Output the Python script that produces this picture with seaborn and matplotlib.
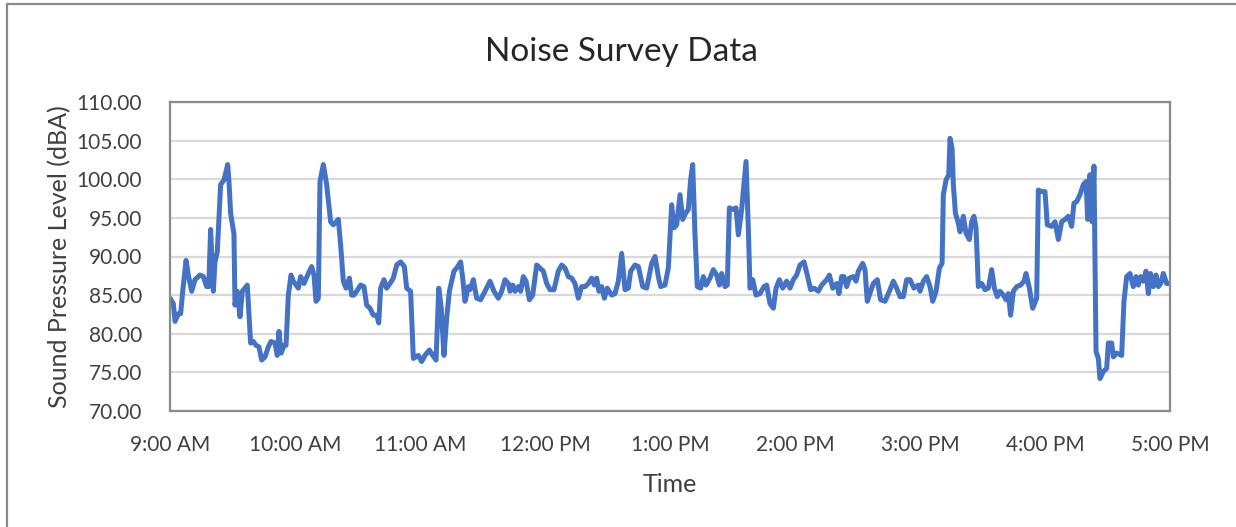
import matplotlib
matplotlib.use("Agg")
import matplotlib.pyplot as plt
import seaborn as sns
import pandas as pd
from matplotlib.patches import Rectangle

# minutes after 9:00 AM and sound pressure level
minutes = [
    0.0, 1.6, 2.4, 4.0, 5.1, 6.1, 7.7, 8.8, 10.4, 12.0, 14.4, 16.0, 17.6, 18.6,
    19.5, 20.8, 21.6, 22.7, 24.3, 25.9, 27.7, 28.3, 29.1, 30.7, 31.2, 32.3,
    33.6, 34.7, 37.1, 38.7, 40.0, 41.3, 42.7, 44.0, 45.6, 47.2, 48.5, 50.4,
    51.5, 52.3, 53.4, 54.7, 55.7, 56.8, 58.1, 59.2, 61.6, 62.7, 64.3, 66.4,
    68.0, 69.1, 70.1, 71.2, 72.0, 73.6, 75.2, 77.1, 78.4, 80.8, 81.9, 83.2,
    84.5, 86.1, 87.2, 88.3, 89.6, 91.5, 93.1, 94.4, 96.0, 97.6, 99.2, 100.2,
    101.1, 102.7, 104.0, 105.6, 107.2, 108.8, 110.7, 112.5, 113.6, 115.5,
    116.8, 119.2,
    120.8, 122.4, 124.5, 126.1, 127.7, 129.0, 130.2, 131.5, 132.8, 134.1,
    136.3, 137.6, 139.5, 140.5, 141.6, 143.2, 144.0, 145.6, 147.2, 149.1,
    151.2, 153.6, 155.5, 157.6, 159.2, 160.8, 162.4, 163.2, 164.5, 165.6,
    167.2, 168.3, 169.6, 170.9, 172.5, 174.1, 176.0, 177.6, 179.2, 180.8,
    182.4, 184.3, 186.4, 188.0, 189.6, 191.2, 192.8, 194.4, 196.0, 197.6,
    199.2, 200.8, 202.4, 203.7, 204.8, 205.9, 207.2, 208.5, 209.9, 212.0,
    213.6, 215.2, 216.8, 218.4, 220.0, 221.1, 223.2, 224.8, 226.9, 228.8,
    231.2, 232.8, 234.4, 235.5, 237.6, 239.2, 240.8, 241.9, 243.2, 244.8,
    246.1, 247.5, 248.8, 249.9, 250.9, 252.0, 253.1, 254.7, 256.0, 257.3,
    259.2, 260.8, 262.4, 263.7, 264.8, 266.4, 267.5, 268.5, 270.1, 271.7,
    272.8, 274.4, 275.5, 276.5, 277.6, 278.4, 279.7, 281.3, 283.2, 285.1,
    286.4, 288.0, 289.6, 290.9, 292.5, 294.1, 296.0, 297.6, 299.2, 300.8,
    302.4, 304.3, 305.9, 307.5, 309.1, 311.2, 312.8, 315.2, 316.5, 318.1,
    320.0, 321.1, 322.4, 323.5, 324.8, 326.1, 328.0, 329.3, 330.4, 332.5,
    333.6, 334.7, 336.3, 337.6, 339.5, 341.1, 343.2, 345.3, 347.2, 348.8,
    350.4, 352.0, 353.6, 355.2, 357.1, 359.2,
    360.0, 361.6, 363.2, 364.8, 366.1, 367.7, 369.3, 370.6, 371.2, 372.5,
    373.8, 374.4, 375.4, 376.0, 377.0, 378.4, 379.2, 380.8, 382.1, 383.7,
    384.8, 385.9, 386.9, 388.0, 389.6, 391.2, 392.8, 394.4, 395.7, 397.1,
    398.4, 400.0, 401.3, 402.4, 403.5, 404.8, 406.4, 408.3, 409.9, 410.9,
    412.5, 414.1, 416.0, 416.8, 418.4, 420.0, 421.1, 423.2, 424.8, 426.4,
    428.0, 429.6, 431.2, 432.8, 433.9, 435.2, 436.8, 438.4, 439.7, 440.5,
    441.6, 442.6, 443.5, 444.5, 445.6, 446.4, 448.0, 449.6, 450.4, 452.0,
    452.8, 454.4, 456.8, 457.9, 459.2, 460.8, 462.4, 463.7, 464.8, 465.9,
    467.2, 468.5, 469.6, 470.7, 472.0, 473.3, 474.4, 475.5, 476.8, 478.4,
    480.0,
]
spl_dba = [
    84.6, 83.9, 81.6, 82.6, 82.6, 85.5, 89.5, 87.6, 85.5, 87.0, 87.6, 87.4, 86.1, 86.1,
    93.5, 85.5, 89.3, 90.6, 99.3, 99.9, 101.9, 99.7, 95.6, 92.9, 83.7, 85.5,
    82.2, 85.5, 86.3, 78.8, 79.0, 78.5, 78.3, 76.6, 77.0, 78.3, 79.0, 78.8,
    77.2, 80.3, 77.5, 78.5, 78.5, 85.0, 87.6, 86.8, 85.9, 87.4, 86.5, 87.8,
    88.7, 87.6, 84.2, 84.6, 99.7, 101.9, 99.3, 94.5, 94.1, 94.8, 91.5, 86.8,
    85.9, 87.2, 85.0, 85.0, 85.5, 86.3, 86.1, 83.7, 83.3, 82.4, 82.4, 81.4,
    85.9, 87.0, 85.9, 86.5, 87.2, 88.9, 89.3, 88.7, 85.9, 85.5,
    76.8, 77.2,
    76.4, 77.2, 77.9, 77.2, 76.6, 85.9, 83.3, 77.2, 82.0, 85.5,
    88.1, 88.5, 89.3, 87.2, 84.2, 86.1, 85.7, 87.0, 84.6, 84.4,
    85.5, 86.8, 85.5, 84.6, 85.5, 87.0, 86.5, 85.5, 86.3, 85.5,
    86.1, 85.5, 87.4, 86.8, 84.4, 85.0, 88.9, 88.5, 88.1, 86.5,
    85.7, 85.7, 88.1, 88.9, 88.5, 87.4, 87.2, 86.5, 84.6, 86.1,
    86.1, 86.5, 87.2, 86.3, 87.2, 85.5, 86.1, 84.6, 85.9, 85.0,
    85.2, 86.8, 90.4, 85.7, 85.9, 88.1, 88.9, 88.7, 86.1, 85.9,
    89.1, 90.0, 87.4, 86.1, 86.3, 88.5, 96.7, 93.7, 94.1, 98.0,
    94.8, 95.6, 96.1, 99.9, 101.9, 92.8, 86.1, 85.9, 87.4, 86.3,
    87.2, 88.3, 87.6, 86.3, 87.8, 86.1, 86.3, 96.3, 96.1, 96.3,
    92.8, 96.1, 99.3, 102.3, 93.7, 85.9, 87.0, 85.0, 85.2, 86.1,
    86.3, 83.9, 83.3, 85.9, 87.0, 85.9, 86.8, 85.9, 87.0, 87.6,
    88.9, 89.3, 87.6, 85.7, 85.9, 85.5, 86.3, 87.0, 87.6, 85.9,
    86.5, 85.2, 87.4, 87.4, 86.1, 87.2, 87.4, 86.8, 88.1, 89.1,
    88.3, 84.2, 85.5, 86.5, 87.0, 84.4, 84.2, 85.5, 86.8, 85.9,
    84.8, 84.8, 87.0, 87.0, 85.9, 86.3,
    85.5, 86.8, 87.4, 86.1, 84.2, 85.5, 88.5, 89.1, 98.0, 99.9,
    100.6, 105.3, 104.0, 99.3, 95.6, 94.3, 93.2, 95.2, 93.0, 92.2,
    94.5, 95.2, 93.7, 86.1, 86.5, 85.7, 85.9, 88.3, 85.9, 84.8,
    85.5, 85.0, 84.4, 85.2, 82.4, 85.5, 86.1, 86.3, 86.8, 87.8,
    85.9, 83.3, 84.6, 98.6, 98.4, 98.4, 94.1, 93.9, 94.5, 92.2,
    94.5, 94.8, 95.2, 93.9, 96.9, 97.1, 98.0, 99.3, 99.7, 94.8,
    100.6, 94.5, 101.7, 77.7, 76.8, 74.2, 75.1, 75.5, 78.8, 78.8,
    77.0, 77.5, 77.2, 84.2, 87.4, 87.8, 86.1, 87.4, 86.3, 87.4,
    86.8, 88.1, 85.2, 87.8, 86.1, 87.6, 86.1, 86.5, 87.8, 86.5,
    86.5,
]
hour_ticks = [0, 60, 120, 180, 240, 300, 360, 420, 480]
hour_labels = ["9:00 AM", "10:00 AM", "11:00 AM", "12:00 PM", "1:00 PM",
               "2:00 PM", "3:00 PM", "4:00 PM", "5:00 PM"]
db_ticks = [70, 75, 80, 85, 90, 95, 100, 105, 110]

df = pd.DataFrame({"minute": minutes, "spl": spl_dba})

sns.set_style("white")
plt.rcParams["font.family"] = ["Lato", "DejaVu Sans"]

fig = plt.figure(figsize=(12.36, 5.27), dpi=100)
ax = fig.add_axes([170 / 1236, 1 - 411 / 527, 1000 / 1236, 309 / 527])

sns.lineplot(data=df, x="minute", y="spl", ax=ax, color="#4472C4",
             linewidth=3.6, estimator=None, sort=False)

ax.set_xlim(0, 480)
ax.set_ylim(70, 110)
ax.set_xticks(hour_ticks)
ax.set_xticklabels(hour_labels)
ax.set_yticks(db_ticks)
ax.set_yticklabels([f"{v:.2f}" for v in db_ticks])
ax.tick_params(axis="both", length=0, labelsize=15, colors="#404040")
ax.tick_params(axis="x", pad=17)
ax.tick_params(axis="y", pad=20)

ax.grid(axis="y", color="#d9d9d9", linewidth=1.6)
ax.set_axisbelow(True)
for sp in ax.spines.values():
    sp.set_color("#8a8a8a")
    sp.set_linewidth(1.6)

ax.set_xlabel("Time", fontsize=18, color="#404040")
ax.xaxis.set_label_coords(0.5, -0.2)
ax.set_ylabel("Sound Pressure Level (dBA)", fontsize=18, color="#404040",
              va="center")
ax.yaxis.set_label_coords(-0.11, 0.5)

fig.text(0.503, 0.902, "Noise Survey Data", fontsize=24, color="#262626",
         ha="center", va="center")

# outer chart frame (runs off the right and bottom edge)
fig.patches.append(Rectangle((7 / 1236, -0.05), 1.2, 1.05 - 4 / 527,
                             transform=fig.transFigure, fill=False,
                             edgecolor="#8a8a8a", linewidth=1.6))

fig.savefig("out.png", dpi=100)
